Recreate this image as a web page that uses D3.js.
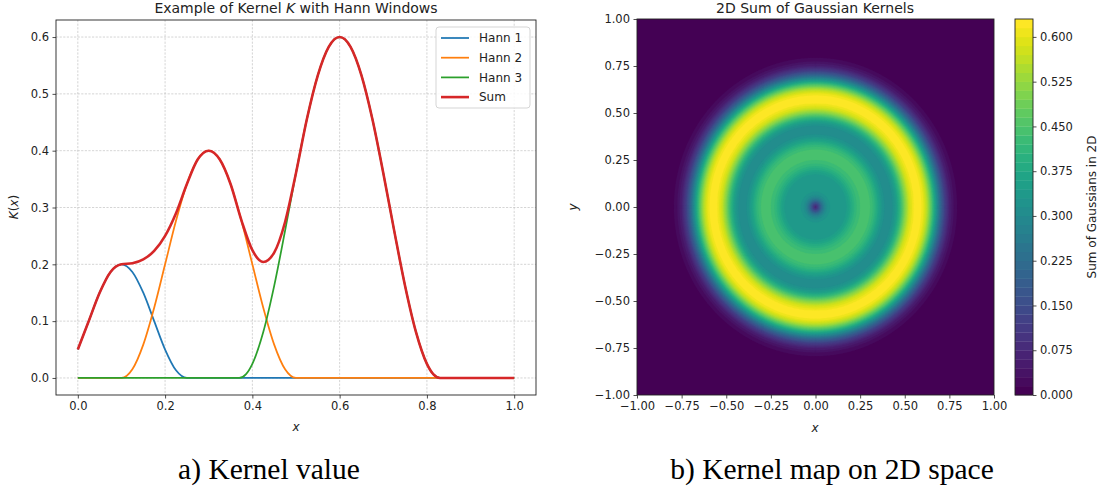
<!DOCTYPE html>
<html>
<head>
<meta charset="utf-8">
<script src="https://cdn.jsdelivr.net/npm/d3@7"></script>
<style>
  body { margin: 0; background: #fff; }
  svg { display: block; }
  text { font-family: "DejaVu Sans", sans-serif; fill: #222; }
  .caption { font-family: "Liberation Serif", serif; fill: #000; }
</style>
</head>
<body>
<svg id="chart" width="1109" height="492"></svg>
<script>
// ---- data ----
// left panel: [x, K(x)] samples
const hann1 = [[0,0.05],[0.025,0.1],[0.05,0.15],[0.075,0.1866],[0.1,0.2],[0.125,0.1866],[0.15,0.15],
  [0.175,0.1],[0.2,0.05],[0.225,0.0134],[0.25,0],[1,0]];
const hann2 = [[0,0],[0.1,0],[0.125,0.0152],[0.15,0.0586],[0.175,0.1235],[0.2,0.2],[0.225,0.2765],
  [0.25,0.3414],[0.275,0.3848],[0.3,0.4],[0.325,0.3848],[0.35,0.3414],[0.375,0.2765],[0.4,0.2],
  [0.425,0.1235],[0.45,0.0586],[0.475,0.0152],[0.5,0],[1,0]];
const hann3 = [[0,0],[0.37,0],[0.385,0.0063],[0.4,0.0248],[0.425,0.0807],[0.45,0.162],[0.475,0.2593],
  [0.5,0.3609],[0.525,0.4558],[0.55,0.5326],[0.575,0.5827],[0.6,0.6],[0.625,0.5827],[0.65,0.5326],
  [0.675,0.4558],[0.7,0.3609],[0.725,0.2593],[0.75,0.162],[0.775,0.0807],[0.8,0.0248],[0.815,0.0063],
  [0.83,0],[1,0]];
const hannSum = [[0,0.05],[0.025,0.1],[0.05,0.15],[0.075,0.1866],[0.1,0.2],[0.125,0.2018],[0.15,0.2086],
  [0.175,0.2235],[0.2,0.25],[0.225,0.2899],[0.25,0.3414],[0.275,0.3848],[0.3,0.4],[0.325,0.3848],
  [0.35,0.3414],[0.375,0.2772],[0.4,0.2248],[0.425,0.2042],[0.45,0.2206],[0.475,0.2745],[0.5,0.3609],
  [0.525,0.4558],[0.55,0.5326],[0.575,0.5827],[0.6,0.6],[0.625,0.5827],[0.65,0.5326],[0.675,0.4558],
  [0.7,0.3609],[0.725,0.2593],[0.75,0.162],[0.775,0.0807],[0.8,0.0248],[0.815,0.0063],[0.83,0],[1,0]];
const seriesNames = ["Hann 1", "Hann 2", "Hann 3", "Sum"];
const leftXTicks = [0, 0.2, 0.4, 0.6, 0.8, 1.0];
const leftYTicks = [0, 0.1, 0.2, 0.3, 0.4, 0.5, 0.6];

// right panel: radial profile of the 2D map (radius -> value)
const profileR = [0, 0.02, 0.04, 0.06, 0.08, 0.10, 0.125, 0.15, 0.175, 0.20, 0.225, 0.25, 0.275, 0.30,
  0.325, 0.35, 0.375, 0.40, 0.425, 0.45, 0.475, 0.50, 0.525, 0.55, 0.575, 0.60, 0.625, 0.65, 0.675,
  0.70, 0.725, 0.75, 0.775, 0.80, 0.825, 0.85, 1.5];
const profileV = [0.06, 0.15, 0.25, 0.31, 0.33, 0.335, 0.33, 0.33, 0.345, 0.38, 0.415, 0.435, 0.445, 0.44,
  0.415, 0.37, 0.325, 0.30, 0.305, 0.34, 0.41, 0.50, 0.575, 0.615, 0.628, 0.61, 0.55, 0.45, 0.33,
  0.21, 0.12, 0.06, 0.028, 0.01, 0.003, 0, 0];
const mapTicks = [-1, -0.75, -0.5, -0.25, 0, 0.25, 0.5, 0.75, 1];
const levelStep = 0.015, levelCount = 42;          // contour bands 0 .. 0.63
const cbTicks = [0, 0.075, 0.15, 0.225, 0.3, 0.375, 0.45, 0.525, 0.6];

// ---- layout ----
const svg = d3.select("#chart");
const colors = ["#1f77b4", "#ff7f0e", "#2ca02c", "#d62728"];
const widths = [1.75, 1.75, 1.75, 2.6];

const xL = d3.scaleLinear([-0.05, 1.05], [56, 536]);
const yL = d3.scaleLinear([-0.03, 0.63], [395, 20]);
const xR = d3.scaleLinear([-1, 1], [637, 994]);
const yR = d3.scaleLinear([-1, 1], [395, 19]);
const yCB = d3.scaleLinear([0, levelStep * levelCount], [395, 19]);
const cbX0 = 1015, cbX1 = 1033;

function styleAxis(g, size) {
  g.select(".domain").remove();
  g.selectAll(".tick line").attr("stroke", "#222").attr("stroke-width", 0.8);
  g.selectAll(".tick text").attr("font-size", size).attr("fill", "#222")
    .attr("font-family", "DejaVu Sans, sans-serif");
}

// ==== left panel ====
const left = svg.append("g");

// grid
left.append("g").selectAll("line").data(leftXTicks).join("line")
  .attr("x1", d => xL(d)).attr("x2", d => xL(d)).attr("y1", 20).attr("y2", 395)
  .attr("stroke", "#b8b8b8").attr("stroke-width", 0.6).attr("stroke-dasharray", "2.2,1.4");
left.append("g").selectAll("line").data(leftYTicks).join("line")
  .attr("y1", d => yL(d)).attr("y2", d => yL(d)).attr("x1", 56).attr("x2", 536)
  .attr("stroke", "#b8b8b8").attr("stroke-width", 0.6).attr("stroke-dasharray", "2.2,1.4");

const line = d3.line().x(d => xL(d[0])).y(d => yL(d[1])).curve(d3.curveMonotoneX);
[hann1, hann2, hann3, hannSum].forEach((s, i) => {
  left.append("path").datum(s).attr("d", line)
    .attr("fill", "none").attr("stroke", colors[i]).attr("stroke-width", widths[i])
    .attr("stroke-linejoin", "round").attr("stroke-linecap", "butt");
});

left.append("g").attr("transform", "translate(0,395)")
  .call(d3.axisBottom(xL).tickValues(leftXTicks).tickFormat(d3.format(".1f")).tickSize(3.5).tickPadding(3.5))
  .call(g => styleAxis(g, 11.5));
left.append("g").attr("transform", "translate(56,0)")
  .call(d3.axisLeft(yL).tickValues(leftYTicks).tickFormat(d3.format(".1f")).tickSize(3.5).tickPadding(3.5))
  .call(g => styleAxis(g, 11.5));

left.append("rect").attr("x", 56).attr("y", 20).attr("width", 480).attr("height", 375)
  .attr("fill", "none").attr("stroke", "#222").attr("stroke-width", 0.9);

// legend
const legend = left.append("g").attr("transform", "translate(436,27)");
legend.append("rect").attr("width", 94).attr("height", 81).attr("rx", 3)
  .attr("fill", "#fff").attr("fill-opacity", 0.85).attr("stroke", "#d0d0d0").attr("stroke-width", 0.9);
seriesNames.forEach((name, i) => {
  const y = 11 + i * 19.7;
  legend.append("line").attr("x1", 5).attr("x2", 33).attr("y1", y).attr("y2", y)
    .attr("stroke", colors[i]).attr("stroke-width", widths[i]);
  legend.append("text").attr("x", 43).attr("y", y).attr("dy", "0.36em")
    .attr("font-size", 12).text(name);
});

// titles / labels
const t1 = left.append("text").attr("x", 296).attr("y", 13).attr("text-anchor", "middle").attr("font-size", 14);
t1.append("tspan").text("Example of Kernel ");
t1.append("tspan").attr("font-style", "italic").text("K");
t1.append("tspan").text(" with Hann Windows");

left.append("text").attr("x", 296).attr("y", 431).attr("text-anchor", "middle")
  .attr("font-size", 12).attr("font-style", "italic").text("x");
const yl = left.append("text").attr("transform", "translate(18,207) rotate(-90)")
  .attr("text-anchor", "middle").attr("font-size", 12);
yl.append("tspan").attr("font-style", "italic").text("K");
yl.append("tspan").text("(");
yl.append("tspan").attr("font-style", "italic").text("x");
yl.append("tspan").text(")");

// ==== right panel ====
const right = svg.append("g");
right.append("clipPath").attr("id", "mapclip").append("rect")
  .attr("x", 637).attr("y", 19).attr("width", 357).attr("height", 376);

const levels = d3.range(levelCount + 1).map(k => +(k * levelStep).toFixed(4));
const bandColor = k => d3.interpolateViridis(k / (levelCount - 1));

// value grid from the radial profile
const n = 241;
const profile = d3.scaleLinear(profileR, profileV).clamp(true);
const gridCoord = d3.scaleLinear([0, n - 1], [-1, 1]);
const values = new Float64Array(n * n);
for (let j = 0; j < n; j++) {
  const gy = -gridCoord(j);
  for (let i = 0; i < n; i++) {
    const gx = gridCoord(i);
    values[j * n + i] = profile(Math.hypot(gx, gy));
  }
}
const contours = d3.contours().size([n, n]).thresholds(levels.slice(1, levelCount))(values);
const toPx = d3.geoTransform({
  point(px, py) {
    this.stream.point(xR(gridCoord(px - 0.5)), yR(-gridCoord(py - 0.5)));
  }
});
const cpath = d3.geoPath(toPx);

const mapG = right.append("g").attr("clip-path", "url(#mapclip)");
mapG.append("rect").attr("x", 637).attr("y", 19).attr("width", 357).attr("height", 376).attr("fill", bandColor(0));
mapG.selectAll("path").data(contours).join("path")
  .attr("d", cpath)
  .attr("fill", (d, i) => bandColor(i + 1))
  .attr("stroke", (d, i) => bandColor(i + 1)).attr("stroke-width", 0.3);

right.append("g").attr("transform", "translate(0,395)")
  .call(d3.axisBottom(xR).tickValues(mapTicks).tickFormat(d3.format(".2f")).tickSize(3.5).tickPadding(3.5))
  .call(g => styleAxis(g, 11.5));
right.append("g").attr("transform", "translate(637,0)")
  .call(d3.axisLeft(yR).tickValues(mapTicks).tickFormat(d3.format(".2f")).tickSize(3.5).tickPadding(3.5))
  .call(g => styleAxis(g, 11.5));
right.append("rect").attr("x", 637).attr("y", 19).attr("width", 357).attr("height", 376)
  .attr("fill", "none").attr("stroke", "#222").attr("stroke-width", 0.9);

right.append("text").attr("x", 815).attr("y", 13).attr("text-anchor", "middle").attr("font-size", 14)
  .text("2D Sum of Gaussian Kernels");
right.append("text").attr("x", 815).attr("y", 432).attr("text-anchor", "middle")
  .attr("font-size", 12).attr("font-style", "italic").text("x");
right.append("text").attr("transform", "translate(577,207) rotate(-90)").attr("text-anchor", "middle")
  .attr("font-size", 12).attr("font-style", "italic").text("y");

// colorbar
const cb = right.append("g");
cb.selectAll("rect").data(d3.range(levelCount)).join("rect")
  .attr("x", cbX0).attr("width", cbX1 - cbX0)
  .attr("y", k => yCB(levels[k + 1])).attr("height", k => yCB(levels[k]) - yCB(levels[k + 1]) + 0.3)
  .attr("fill", k => bandColor(k));
cb.append("g").attr("transform", `translate(${cbX1},0)`)
  .call(d3.axisRight(yCB).tickValues(cbTicks).tickFormat(d3.format(".3f")).tickSize(3.5).tickPadding(3.5))
  .call(g => styleAxis(g, 11.5));
cb.append("rect").attr("x", cbX0).attr("y", 19).attr("width", cbX1 - cbX0).attr("height", 376)
  .attr("fill", "none").attr("stroke", "#222").attr("stroke-width", 0.9);
cb.append("text").attr("transform", "translate(1092,207) rotate(-90)").attr("text-anchor", "middle")
  .attr("dy", "0.35em").attr("font-size", 12).text("Sum of Gaussians in 2D");

// captions
svg.append("text").attr("class", "caption").attr("x", 269).attr("y", 479)
  .attr("text-anchor", "middle").attr("font-size", 29.5).text("a) Kernel value");
svg.append("text").attr("class", "caption").attr("x", 832).attr("y", 479)
  .attr("text-anchor", "middle").attr("font-size", 29.5).text("b) Kernel map on 2D space");
</script>
</body>
</html>
